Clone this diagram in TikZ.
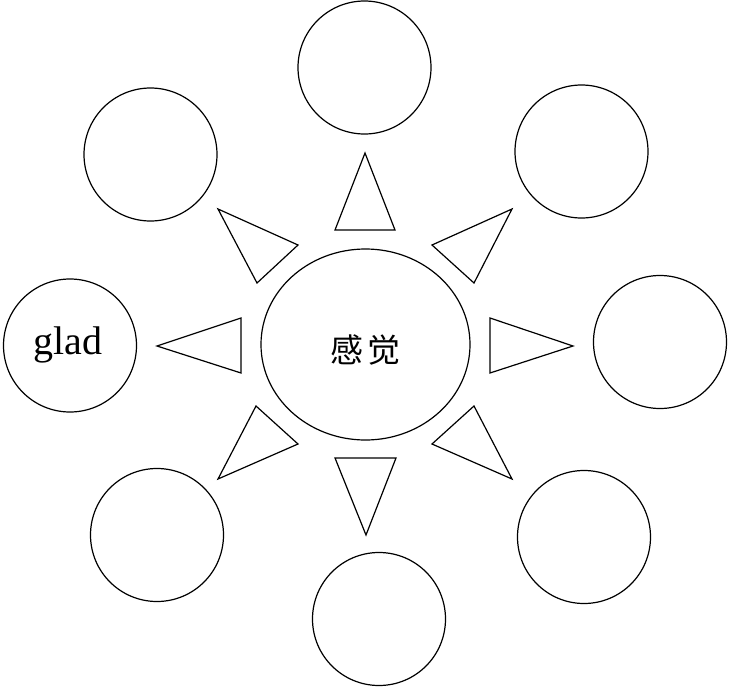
\documentclass[tikz,border=0pt]{standalone}
\usepackage{fontspec}
\setmainfont{Liberation Serif}
\newfontfamily\cjk{Noto Sans CJK SC}
\usetikzlibrary{shapes.geometric}
\tikzset{
  bubble/.style={circle, draw, line width=1.2pt, minimum size=133pt, inner sep=0pt},
  hub/.style={ellipse, draw, line width=1.2pt, minimum width=209pt, minimum height=191pt, inner sep=0pt},
  tri/.style={draw, line width=1.2pt, line join=miter}
}
\begin{document}
\begin{tikzpicture}[x=1pt,y=-1pt]
\useasboundingbox (0,0) rectangle (734,691);
% center
\node[hub] (hub) at (365.5,344.5) {};
\node at (365.5,350) {\cjk\fontsize{33}{33}\selectfont 感\hspace{4pt}觉};
% outer circles
\node[bubble] (ct)  at (364.5,67.5) {};
\node[bubble] (ctr) at (581.5,151.5) {};
\node[bubble] (cr)  at (660,342) {};
\node[bubble] (cbr) at (584,537) {};
\node[bubble] (cb)  at (379,619) {};
\node[bubble] (cbl) at (157,535) {};
\node[bubble] (cl)  at (70,345.5) {};
\node at (68,345) {\fontsize{40}{40}\selectfont glad};
\node[bubble] (ctl) at (150.5,154.5) {};
% triangles
\draw[tri] (365,153) -- (335,230) -- (395,230) -- cycle;
\draw[tri] (512,209) -- (432,245) -- (474,283) -- cycle;
\draw[tri] (573,346) -- (490,318) -- (490,373) -- cycle;
\draw[tri] (512,479) -- (432,444) -- (474,406) -- cycle;
\draw[tri] (366,535) -- (335,458) -- (396,458) -- cycle;
\draw[tri] (218,479) -- (298,444) -- (256,406) -- cycle;
\draw[tri] (157,346) -- (241,318) -- (241,373) -- cycle;
\draw[tri] (218,209) -- (298,245) -- (257,283) -- cycle;
\end{tikzpicture}
\end{document}
